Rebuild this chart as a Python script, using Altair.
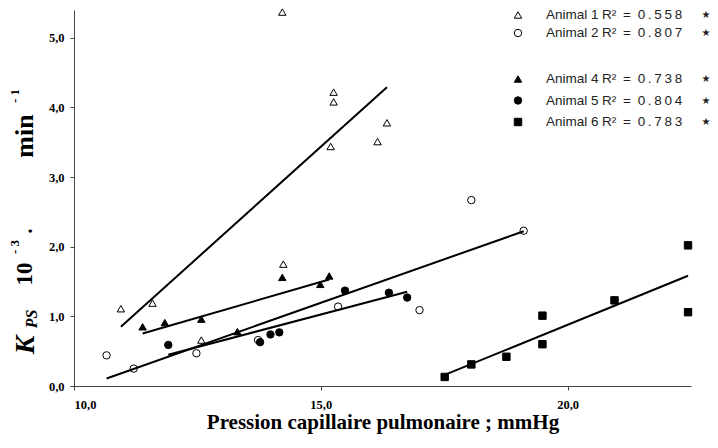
import altair as alt
import pandas as pd

# ---- data ----
a1_x = [10.95, 11.59, 12.58, 14.24, 14.22, 15.20, 15.26, 15.26, 16.15, 16.34]
a1_y = [1.11, 1.19, 0.66, 1.75, 5.37, 3.44, 4.08, 4.22, 3.51, 3.78]
a2_x = [10.66, 11.21, 12.48, 13.73, 15.35, 17.00, 18.05, 19.11]
a2_y = [0.44, 0.25, 0.47, 0.66, 1.14, 1.09, 2.67, 2.23]
a4_x = [11.39, 11.84, 12.58, 13.31, 14.22, 14.99, 15.17]
a4_y = [0.85, 0.91, 0.96, 0.78, 1.56, 1.46, 1.58]
a5_x = [11.91, 13.77, 13.98, 14.16, 15.49, 16.38, 16.75]
a5_y = [0.59, 0.63, 0.74, 0.77, 1.37, 1.34, 1.27]
a6_x = [17.51, 18.05, 18.76, 19.49, 19.49, 20.95, 22.44, 22.44]
a6_y = [0.13, 0.31, 0.42, 1.01, 0.60, 1.23, 2.02, 1.06]

animals = ["Animal 1", "Animal 2", "Animal 4", "Animal 5", "Animal 6"]
r2 = ["0.558", "0.807", "0.738", "0.804", "0.783"]
x_ticks = [10, 15, 20]
y_ticks = [0, 1, 2, 3, 4, 5]

series = [(a1_x, a1_y), (a2_x, a2_y), (a4_x, a4_y), (a5_x, a5_y), (a6_x, a6_y)]
rows = []
for name, (xs, ys) in zip(animals, series):
    for xv, yv in zip(xs, ys):
        rows.append({"animal": name, "x": xv, "y": yv})
df = pd.DataFrame(rows)

# marker styles (layout, not data)
shapes = ["triangle-up", "circle", "triangle-up", "circle", "square"]
fills = ["white", "white", "black", "black", "black"]

comma = "replace(format(datum.value, '.1f'), '.', ',')"

xenc = alt.X("x:Q", scale=alt.Scale(domain=[10, 22.5], nice=False, zero=False),
             axis=alt.Axis(values=x_ticks, labelExpr=comma, grid=False,
                           title="Pression capillaire pulmonaire ; mmHg",
                           titleFont="Liberation Serif", titleFontSize=21,
                           titleFontWeight="bold", titleColor="black",
                           titlePadding=1,
                           labelFont="Liberation Serif", labelFontSize=12.5,
                           labelFontWeight="bold", labelColor="black",
                           labelPadding=8, tickSize=4, domainColor="#444",
                           tickColor="#444"))
yenc = alt.Y("y:Q", scale=alt.Scale(domain=[0, 5.4], nice=False),
             axis=alt.Axis(values=y_ticks, labelExpr=comma, grid=False, title=None,
                           labelFont="Liberation Serif", labelFontSize=12.5,
                           labelFontWeight="bold", labelColor="black",
                           labelPadding=6, tickSize=4, domainColor="#444",
                           tickColor="#444"))

points = alt.Chart(df).mark_point(size=55, opacity=1, strokeWidth=1, stroke="black").encode(
    x=xenc, y=yenc,
    shape=alt.Shape("animal:N", scale=alt.Scale(domain=animals, range=shapes), legend=None),
    fill=alt.Fill("animal:N", scale=alt.Scale(domain=animals, range=fills), legend=None),
)

lines = alt.Chart(df).transform_regression(
    "x", "y", groupby=["animal"]
).mark_line(color="black", strokeWidth=2).encode(
    x="x:Q", y="y:Q", detail="animal:N"
)

OX, OY = 74, 10  # plot origin on the page
one = pd.DataFrame({"t": [""]})

def ttl(txt, x, y, size, italic=False):
    return alt.Chart(pd.DataFrame({"t": [txt]})).mark_text(
        angle=270, align="center", baseline="alphabetic", font="Liberation Serif",
        fontSize=size, fontWeight="bold",
        fontStyle="italic" if italic else "normal", color="black"
    ).encode(x=alt.value(x - OX), y=alt.value(y - OY), text="t:N")

title_parts = [
    ttl("K", 34, 345, 28, italic=True),
    ttl("PS", 37, 319, 16, italic=True),
    ttl("10", 32, 274, 23),
    ttl("- 3", 19, 247, 13),
    ttl(".", 32, 231, 20),
    ttl("min", 33, 136, 26),
    ttl("- 1", 19, 96, 13),
]

# hand-built legend
LEG_Y = [15, 33, 79, 100.5, 122]
SYM_X, NAME_X, R2_X, STAR_X = 518, 546, 602, 706
EN, THIN = "\u2002", "\u2009"
legend_layers = []
for name, r, shp, fl, ly in zip(animals, r2, shapes, fills, LEG_Y):
    r_txt = "R²" + EN + "=" + EN + THIN.join(list(r))
    legend_layers.append(
        alt.Chart(one).mark_point(shape=shp, fill=fl, stroke="black", strokeWidth=1,
                                  size=55, opacity=1)
        .encode(x=alt.value(SYM_X - OX), y=alt.value(ly - OY)))
    legend_layers.append(
        alt.Chart(pd.DataFrame({"t": [name]})).mark_text(
            align="left", baseline="middle", font="Liberation Sans", fontSize=13.5,
            color="#222").encode(x=alt.value(NAME_X - OX), y=alt.value(ly - OY), text="t:N"))
    legend_layers.append(
        alt.Chart(pd.DataFrame({"t": [r_txt]})).mark_text(
            align="left", baseline="middle", font="Liberation Sans", fontSize=13.5,
            color="#222").encode(x=alt.value(R2_X - OX), y=alt.value(ly - OY), text="t:N"))
    legend_layers.append(
        alt.Chart(pd.DataFrame({"t": ["★"]})).mark_text(
            align="center", baseline="middle", font="DejaVu Sans", fontSize=10,
            color="#222").encode(x=alt.value(STAR_X - OX), y=alt.value(ly - OY), text="t:N"))

chart = alt.layer(points, lines, *title_parts, *legend_layers).properties(
    width=617, height=376,
    autosize=alt.AutoSizeParams(type="none"),
    padding={"left": 66, "top": 2, "right": 19, "bottom": 54},
).configure_view(stroke=None)

chart.save("out.html", embed_options={"renderer": "svg", "actions": False})
